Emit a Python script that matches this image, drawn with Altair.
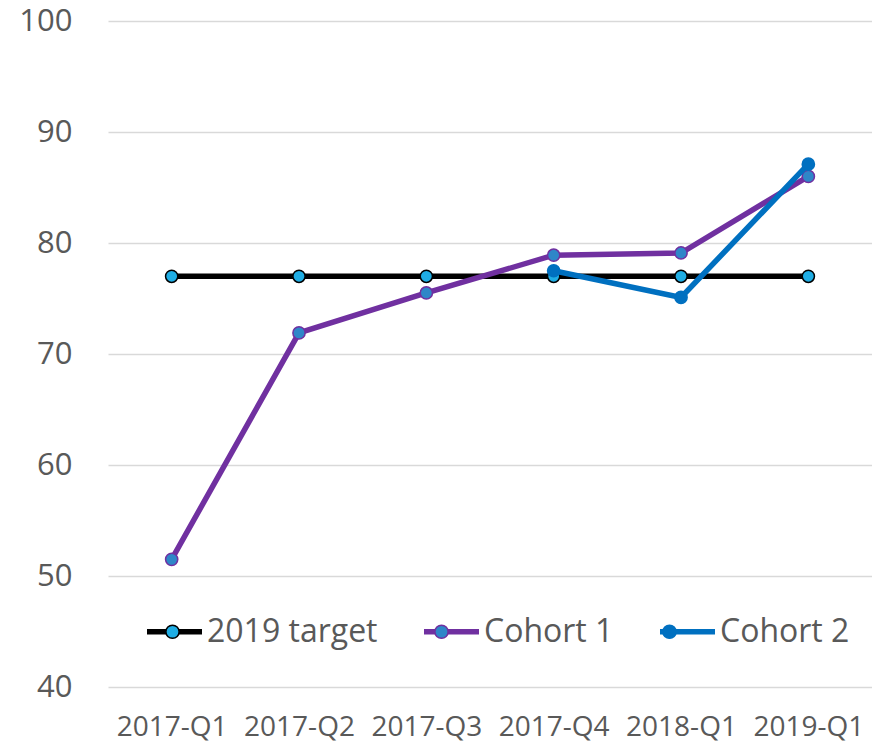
import altair as alt
import pandas as pd

quarters = ["2017-Q1", "2017-Q2", "2017-Q3", "2017-Q4", "2018-Q1", "2019-Q1"]
series_names = ["2019 target", "Cohort 1", "Cohort 2"]
target = [77.0, 77.0, 77.0, 77.0, 77.0, 77.0]
cohort1 = [51.5, 71.9, 75.5, 78.9, 79.1, 86.0]
cohort2 = [None, None, None, 77.5, 75.1, 87.1]
y_ticks = [40, 50, 60, 70, 80, 90, 100]

line_colors = ["#000000", "#7030A0", "#0070C0"]
marker_fills = ["#1FADE4", "#2E86C8", "#0070C0"]

rows = []
for name, vals in zip(series_names, [target, cohort1, cohort2]):
    for q, v in zip(quarters, vals):
        if v is not None:
            rows.append({"quarter": q, "series": name, "series_m": name, "value": v})
df = pd.DataFrame(rows)

FONT = "Open Sans"
GREY = "#595959"

x_enc = alt.X("quarter:N", sort=quarters, scale=alt.Scale(type="point", padding=0.5),
              axis=alt.Axis(title=None, labelAngle=0, labelFont=FONT, labelFontSize=28,
                            labelColor=GREY, ticks=False, domain=False, grid=False,
                            labelPadding=26))
y_enc = alt.Y("value:Q", scale=alt.Scale(domain=[40, 100], nice=False, zero=False),
              axis=alt.Axis(title=None, values=y_ticks, labelFont=FONT, labelFontSize=31,
                            labelColor=GREY, ticks=False, domain=False, grid=True,
                            gridColor="#D9D9D9", gridWidth=1.3, labelPadding=36))

legend_common = dict(title=None, orient="none", direction="horizontal",
                     labelFont=FONT, labelFontSize=32, labelColor=GREY, labelLimit=0,
                     symbolSize=3025, labelOffset=2, columnPadding=35, padding=0,
                     legendX=36, legendY=580)

legA = alt.Legend(**legend_common, symbolType="M-1,0L1,0", symbolStrokeWidth=5.5)
legB = alt.Legend(**{**legend_common, "legendY": 582},
                  symbolType="M-1.07,0M1.07,0M-0.24,0A0.24,0.24,0,1,1,0.24,0A0.24,0.24,0,1,1,-0.24,0Z",
                  symbolStrokeWidth=1.5, labelOpacity=0, zindex=2)

layers = []
for name in series_names:
    base = alt.Chart(df).transform_filter(alt.datum.series == name)
    line = base.mark_line(strokeWidth=5.5).encode(
        x=x_enc, y=y_enc,
        color=alt.Color("series:N", scale=alt.Scale(domain=series_names, range=line_colors), legend=legA),
    )
    pts = base.mark_point(filled=True, shape="circle", size=150, strokeWidth=1.5, opacity=1).encode(
        x=x_enc, y=y_enc,
        fill=alt.Fill("series_m:N", scale=alt.Scale(range=marker_fills), legend=legB),
        stroke=alt.Stroke("series_m:N", scale=alt.Scale(range=line_colors), legend=legB),
    )
    layers += [line, pts]

chart = alt.layer(*layers).properties(
    width=764, height=666,
    autosize=alt.AutoSizeParams(type="none"),
    padding={"left": 100, "top": 13, "right": 0, "bottom": 56},
).configure_view(stroke=None)

chart.save("out.html", embed_options={"renderer": "svg", "actions": False})
